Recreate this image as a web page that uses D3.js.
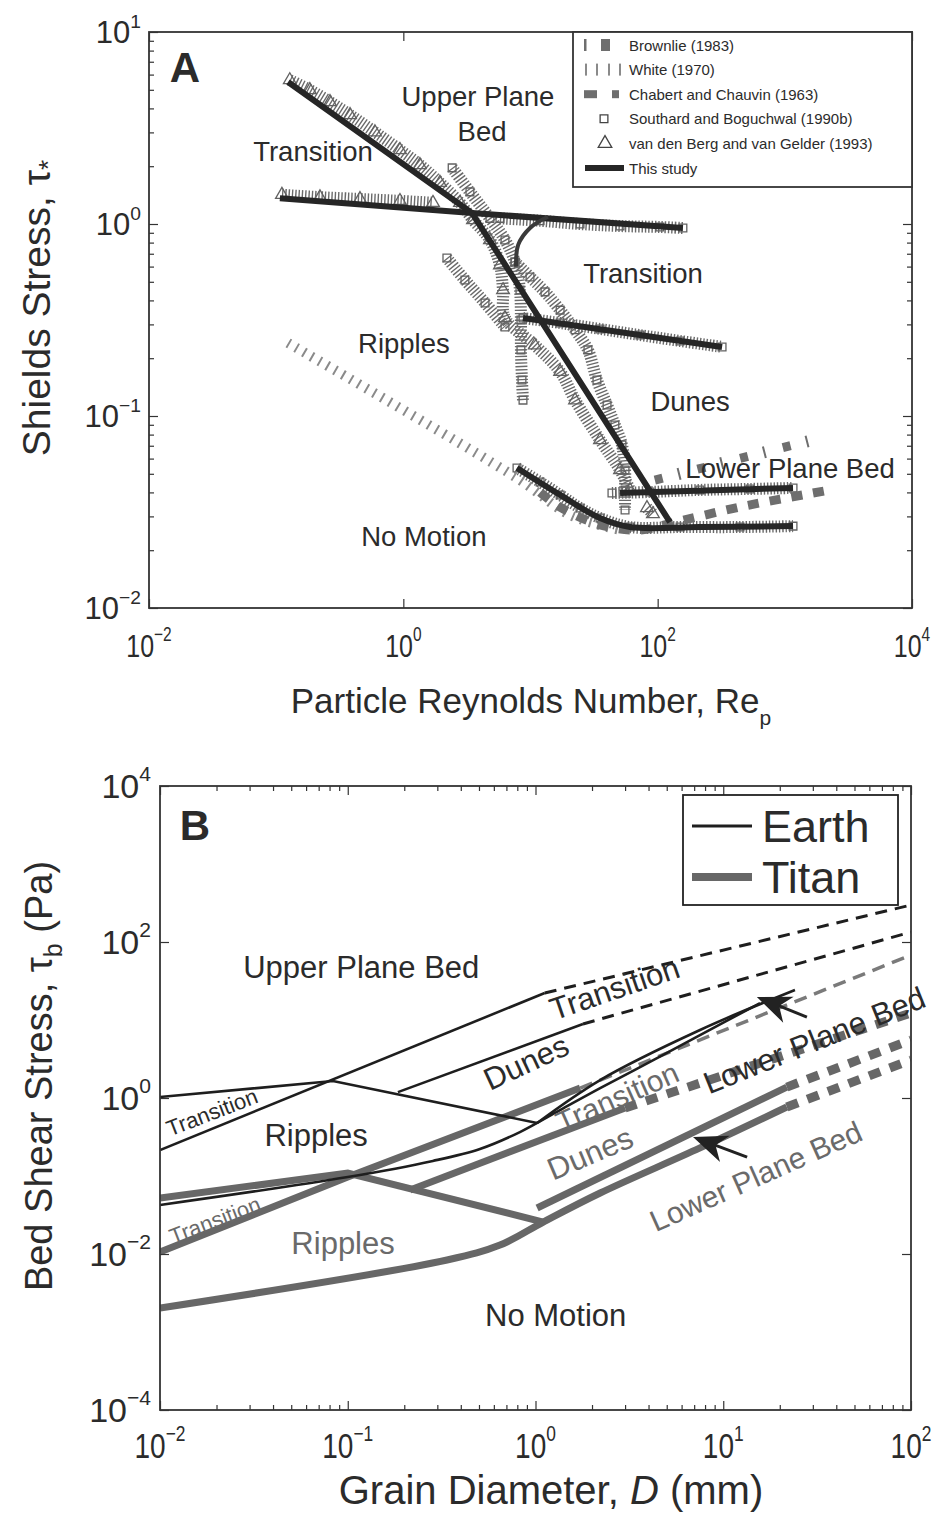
<!DOCTYPE html>
<html>
<head>
<meta charset="utf-8">
<script src="https://cdn.jsdelivr.net/npm/d3@7"></script>
<style>
  body { margin: 0; background: #fff; }
  text { font-family: "Liberation Sans", Arial, Helvetica, sans-serif; fill: #2b2b2b; }
</style>
</head>
<body>
<svg id="chart" width="937" height="1513"></svg>
<script>
// ---------- Panel A data (Re_p, Shields stress) ----------
const reTicks = [1e-2, 1e0, 1e2, 1e4];
const tauTicksA = [1e-2, 1e-1, 1e0, 1e1];

const studyUpper = [[0.107, 1.36], [3.47, 1.14], [158, 0.953]];
const studySteep = [[0.124, 5.49], [3.47, 1.14], [125, 0.028]];
const studyTransDunes = [[8.73, 0.324], [321, 0.229]];
const studyLowerPlane = [[50.6, 0.0397], [1160, 0.0422]];
const studyThreshold = [[7.83, 0.0536], [17.1, 0.0388], [35.2, 0.0294], [60.6, 0.0264], [215, 0.0264], [1160, 0.0267]];
const studyBranch = [[13.7, 1.09], [9.91, 0.953], [8.0, 0.778], [7.7, 0.60]];

const white1970 = [[0.124, 0.240], [7.83, 0.0475], [20.5, 0.0305], [50.6, 0.0255]];
const chabert1963 = [[11.9, 0.040], [17.1, 0.0335], [35.2, 0.0271], [72.6, 0.0255], [150, 0.0284], [444, 0.0336], [2270, 0.0412]];
const brownlie1983 = [[95, 0.0464], [2070, 0.0778]];

const triUpper = [[0.128, 5.62], [0.184, 4.99], [0.265, 4.32], [0.381, 3.70], [0.598, 3.01], [0.941, 2.43], [1.35, 2.03], [1.94, 1.64], [2.79, 1.29], [3.53, 1.05], [4.80, 0.826], [5.75, 0.611], [6.08, 0.453], [6.30, 0.324], [10.8, 0.234], [17.1, 0.170], [22.4, 0.121], [35.2, 0.075], [50.6, 0.0523], [60.6, 0.0412]];
const triFlat = [[0.111, 1.42], [0.221, 1.38], [0.456, 1.35], [0.941, 1.32], [1.71, 1.29]];
const triLow = [[82.4, 0.0332], [91.8, 0.0309]];

const sqUpper = [[2.42, 1.96], [3.34, 1.47], [4.80, 1.07], [6.30, 0.826], [7.55, 0.634], [8.26, 0.453], [8.41, 0.316], [8.41, 0.221], [8.57, 0.154], [8.73, 0.121]];
const sqRipples = [[2.20, 0.665], [3.05, 0.511], [4.39, 0.388], [6.30, 0.291]];
const sqDunes = [[7.55, 0.634], [9.91, 0.530], [13.0, 0.443], [17.1, 0.356], [22.4, 0.281], [28.3, 0.221], [33.3, 0.154], [40.0, 0.114], [46.1, 0.0898], [52.4, 0.0706], [55.4, 0.0523], [55.4, 0.0412], [55.4, 0.0324]];
const sqFlat = [[5.75, 1.07], [11.9, 1.04], [24.5, 1.0], [50.6, 0.976], [104, 0.965], [158, 0.953]];
const sqTransDunes = [[8.73, 0.324], [17.1, 0.305], [35.2, 0.284], [72.6, 0.264], [150, 0.246], [321, 0.229]];
const sqLowerPlane = [[43.7, 0.0397], [87.0, 0.0402], [215, 0.0412], [532, 0.0417], [1160, 0.0422]];
const sqThreshold = [[7.83, 0.0536], [11.9, 0.0453], [17.1, 0.0388], [24.5, 0.0332], [35.2, 0.0294], [60.6, 0.0264], [150, 0.0264], [444, 0.0264], [1160, 0.0267]];

const legendA = ["Brownlie (1983)", "White (1970)", "Chabert and Chauvin (1963)", "Southard and Boguchwal (1990b)", "van den Berg and van Gelder (1993)", "This study"];

const labelsA = [
  {t: "Upper Plane", p: [3.86, 4.64]}, {t: "Bed", p: [4.16, 3.05]},
  {t: "Transition", p: [0.195, 2.40]}, {t: "Transition", p: [76.7, 0.556]},
  {t: "Ripples", p: [1.01, 0.24]}, {t: "Dunes", p: [180, 0.120]},
  {t: "Lower Plane Bed", p: [1100, 0.0536]}, {t: "No Motion", p: [1.45, 0.0237]}
];

// ---------- Panel B data (D in mm, bed shear stress in Pa) ----------
const dTicks = [1e-2, 1e-1, 1e0, 1e1, 1e2];
const tauTicksB = [1e-4, 1e-2, 1e0, 1e2, 1e4];

const earthUpper = [[0.01, 0.215], [1.12, 22.2]];
const earthUpperExt = [[1.12, 22.2], [100, 298]];
const earthTransDunes = [[0.185, 1.19], [1.79, 8.9]];
const earthTransDunesExt = [[1.79, 8.9], [100, 134]];
const earthRipples = [[0.01, 1.03], [0.0834, 1.65], [1.02, 0.478]];
const earthThreshold = [[0.01, 0.0425], [0.1, 0.097], [0.284, 0.156], [0.506, 0.222], [0.826, 0.366], [1.35, 0.70], [2.21, 1.34], [4.07, 2.9], [7.52, 6.4], [15.7, 16.5]];
const earthLowerPlane = [[1.02, 0.478], [2.21, 1.70], [7.52, 7.45], [24.1, 24.3]];

const titanUpper = [[0.01, 0.0106], [0.1, 0.097], [1.73, 1.34]];
const titanUpperExt = [[1.73, 1.34], [100, 68]];
const titanTransDunes = [[0.215, 0.0663], [3.0, 0.745]];
const titanTransDunesExt = [[3.0, 0.745], [100, 12.3]];
const titanRipples = [[0.01, 0.052], [0.1, 0.109], [1.10, 0.0257]];
const titanThreshold = [[0.01, 0.00203], [0.338, 0.00838], [0.647, 0.013], [1.10, 0.0257], [2.21, 0.0605], [7.52, 0.229], [21.8, 0.767]];
const titanThresholdExt = [[21.8, 0.767], [100, 3.07]];
const titanLowerPlane = [[1.02, 0.0389], [21.8, 1.38]];
const titanLowerPlaneExt = [[21.8, 1.38], [100, 5.55]];

const arrowsB = [
  {head: [15.1, 19.7], tail: [27.9, 10.9]},
  {head: [6.9, 0.316], tail: [13.4, 0.175]}
];

const labelsB = [
  {t: "Upper Plane Bed", p: [0.118, 47.8], r: 0, c: "#2b2b2b", s: 31},
  {t: "Transition", p: [2.63, 25.7], r: -19, c: "#2b2b2b", s: 31},
  {t: "Dunes", p: [0.889, 2.9], r: -25, c: "#2b2b2b", s: 31},
  {t: "Transition", p: [0.0189, 0.662], r: -21, c: "#2b2b2b", s: 22},
  {t: "Ripples", p: [0.0678, 0.336], r: 0, c: "#2b2b2b", s: 31},
  {t: "Lower Plane Bed", p: [30.5, 5.55], r: -22, c: "#2b2b2b", s: 31},
  {t: "Transition", p: [2.72, 1.03], r: -24, c: "#6a6a6a", s: 30},
  {t: "Dunes", p: [1.95, 0.197], r: -23, c: "#6a6a6a", s: 31},
  {t: "Lower Plane Bed", p: [14.9, 0.1], r: -24, c: "#6a6a6a", s: 30},
  {t: "Transition", p: [0.0196, 0.0273], r: -21, c: "#6a6a6a", s: 22},
  {t: "Ripples", p: [0.0944, 0.0138], r: 0, c: "#6a6a6a", s: 31},
  {t: "No Motion", p: [1.28, 0.00165], r: 0, c: "#2b2b2b", s: 31}
];

// ---------- drawing ----------
const svg = d3.select("#chart");

const xA = d3.scaleLog().domain([1e-2, 1e4]).range([149, 912]);
const yA = d3.scaleLog().domain([1e-2, 1e1]).range([608, 32]);
const xB = d3.scaleLog().domain([1e-2, 1e2]).range([160, 911]);
const yB = d3.scaleLog().domain([1e-4, 1e4]).range([1410, 786]);

function minors(lo, hi) {
  const out = [];
  for (let e = lo; e < hi; e++) for (let k = 2; k < 10; k++) out.push(k * Math.pow(10, e));
  return out;
}

function powLabel(g, x, y, exp, size, anchor, sx) {
  const t = g.append("text").attr("transform", `translate(${x},${y}) scale(${sx},1)`)
    .attr("font-size", size).attr("text-anchor", anchor);
  t.append("tspan").text("10");
  t.append("tspan").attr("dy", -size * 0.5).attr("font-size", size * 0.62)
    .text(exp < 0 ? "\u2212" + (-exp) : String(exp));
}

function ticks(g, axis) {
  g.call(axis).call(s => s.select(".domain").remove())
    .call(s => s.selectAll("line").attr("stroke", "#333").attr("stroke-width", 1.2));
}

function frame(g, x, y, xMajor, xMinor, yMajor, yMinor) {
  const [x0, x1] = x.range(), [y0, y1] = y.range();
  ticks(g.append("g").attr("transform", `translate(0,${y0})`), d3.axisBottom(x).tickValues(xMajor).tickSize(-9).tickFormat(""));
  ticks(g.append("g").attr("transform", `translate(0,${y1})`), d3.axisTop(x).tickValues(xMajor).tickSize(-9).tickFormat(""));
  ticks(g.append("g").attr("transform", `translate(${x0},0)`), d3.axisLeft(y).tickValues(yMajor).tickSize(-9).tickFormat(""));
  ticks(g.append("g").attr("transform", `translate(${x1},0)`), d3.axisRight(y).tickValues(yMajor).tickSize(-9).tickFormat(""));
  if (xMinor.length) {
    ticks(g.append("g").attr("transform", `translate(0,${y0})`), d3.axisBottom(x).tickValues(xMinor).tickSize(-5).tickFormat(""));
    ticks(g.append("g").attr("transform", `translate(0,${y1})`), d3.axisTop(x).tickValues(xMinor).tickSize(-5).tickFormat(""));
  }
  if (yMinor.length) {
    ticks(g.append("g").attr("transform", `translate(${x0},0)`), d3.axisLeft(y).tickValues(yMinor).tickSize(-5).tickFormat(""));
    ticks(g.append("g").attr("transform", `translate(${x1},0)`), d3.axisRight(y).tickValues(yMinor).tickSize(-5).tickFormat(""));
  }
  g.append("rect").attr("x", x0).attr("y", y1).attr("width", x1 - x0).attr("height", y0 - y1)
    .attr("fill", "none").attr("stroke", "#333").attr("stroke-width", 1.8);
}

// ===== Panel A =====
const gA = svg.append("g");
const lineA = d3.line().x(d => xA(d[0])).y(d => yA(d[1]));
const curveA = d3.line().x(d => xA(d[0])).y(d => yA(d[1])).curve(d3.curveCatmullRom.alpha(0.5));

gA.append("clipPath").attr("id", "clipA").append("rect")
  .attr("x", 149).attr("y", 32).attr("width", 763).attr("height", 576);
const pA = gA.append("g").attr("clip-path", "url(#clipA)");

function markerBand(data, type) {
  pA.append("path").attr("d", curveA(data)).attr("fill", "none")
    .attr("stroke", "#6a6a6a").attr("stroke-width", 12).attr("stroke-dasharray", "1.4 1.9");
  pA.selectAll(null).data(data).enter().append("path")
    .attr("transform", d => `translate(${xA(d[0])},${yA(d[1])})`)
    .attr("d", d3.symbol().type(type).size(type === d3.symbolSquare ? 60 : 70))
    .attr("fill", "none").attr("stroke", "#626262").attr("stroke-width", 1.3);
}

[sqUpper, sqRipples, sqDunes, sqFlat, sqTransDunes, sqLowerPlane, sqThreshold].forEach(d => markerBand(d, d3.symbolSquare));
[triUpper, triFlat, triLow].forEach(d => markerBand(d, d3.symbolTriangle));

// literature curves
pA.append("path").attr("d", curveA(white1970)).attr("fill", "none")
  .attr("stroke", "#8a8a8a").attr("stroke-width", 10).attr("stroke-dasharray", "2 7");
pA.append("path").attr("d", curveA(chabert1963)).attr("fill", "none")
  .attr("stroke", "#6e6e6e").attr("stroke-width", 9).attr("stroke-dasharray", "11 11");
pA.append("path").attr("d", lineA(brownlie1983)).attr("fill", "none")
  .attr("stroke", "#6e6e6e").attr("stroke-width", 9).attr("stroke-dasharray", "8 36");
pA.append("path").attr("d", lineA(brownlie1983)).attr("fill", "none")
  .attr("stroke", "#6e6e6e").attr("stroke-width", 12).attr("stroke-dasharray", "2 42").attr("stroke-dashoffset", -24);

// this study
[studyUpper, studySteep, studyTransDunes, studyLowerPlane].forEach(d => {
  pA.append("path").attr("d", lineA(d)).attr("fill", "none")
    .attr("stroke", "#262626").attr("stroke-width", 6);
});
pA.append("path").attr("d", curveA(studyThreshold)).attr("fill", "none")
  .attr("stroke", "#262626").attr("stroke-width", 6);
pA.append("path").attr("d", curveA(studyBranch)).attr("fill", "none")
  .attr("stroke", "#3a3a3a").attr("stroke-width", 4);

labelsA.forEach(l => {
  gA.append("text").attr("x", xA(l.p[0])).attr("y", yA(l.p[1]) + 10)
    .attr("text-anchor", "middle").attr("font-size", 27.5).text(l.t);
});

frame(gA, xA, yA, reTicks, [], tauTicksA, minors(-2, 1));

reTicks.forEach(v => powLabel(gA, xA(v), 657, Math.round(Math.log10(v)), 32, "middle", 0.78));
tauTicksA.forEach(v => powLabel(gA, 141, yA(v) + 11, Math.round(Math.log10(v)), 31, "end", 1));

gA.append("text").attr("x", 185).attr("y", 82).attr("text-anchor", "middle")
  .attr("font-size", 42).attr("font-weight", "bold").attr("fill", "#111").text("A");

// legend A
const lgA = gA.append("g");
lgA.append("rect").attr("x", 573).attr("y", 32).attr("width", 339).attr("height", 155)
  .attr("fill", "#fff").attr("stroke", "#333").attr("stroke-width", 1.8);
const lgY = d3.scalePoint().domain(legendA).range([45, 168]);
legendA.forEach(t => {
  lgA.append("text").attr("x", 629).attr("y", lgY(t) + 5.5).attr("font-size", 15)
    .attr("fill", "#3a3a3a").text(t);
});
const ly = t => lgY(t);
lgA.append("rect").attr("x", 584).attr("y", ly(legendA[0]) - 6).attr("width", 2.5).attr("height", 12).attr("fill", "#6e6e6e");
lgA.append("rect").attr("x", 601).attr("y", ly(legendA[0]) - 6).attr("width", 9).attr("height", 12).attr("fill", "#6e6e6e");
[585, 596, 608, 619].forEach(x => lgA.append("rect").attr("x", x).attr("y", ly(legendA[1]) - 6)
  .attr("width", 2).attr("height", 12).attr("fill", "#8a8a8a"));
lgA.append("rect").attr("x", 584).attr("y", ly(legendA[2]) - 4).attr("width", 13).attr("height", 8).attr("fill", "#6e6e6e");
lgA.append("rect").attr("x", 612).attr("y", ly(legendA[2]) - 4).attr("width", 7).attr("height", 8).attr("fill", "#6e6e6e");
lgA.append("path").attr("transform", `translate(604,${ly(legendA[3])})`)
  .attr("d", d3.symbol().type(d3.symbolSquare).size(60)).attr("fill", "none").attr("stroke", "#444").attr("stroke-width", 1.3);
lgA.append("path").attr("transform", `translate(605,${ly(legendA[4])})`)
  .attr("d", d3.symbol().type(d3.symbolTriangle).size(80)).attr("fill", "none").attr("stroke", "#444").attr("stroke-width", 1.3);
lgA.append("line").attr("x1", 585).attr("x2", 624).attr("y1", ly(legendA[5])).attr("y2", ly(legendA[5]))
  .attr("stroke", "#262626").attr("stroke-width", 6);

// axis titles A
const yTitleA = gA.append("text").attr("transform", "translate(50,308) rotate(-90)")
  .attr("text-anchor", "middle").attr("font-size", 39);
yTitleA.append("tspan").text("Shields Stress, \u03c4");
yTitleA.append("tspan").attr("dy", 7).attr("font-size", 26).text("*");

const xTitleA = gA.append("text").attr("x", 531).attr("y", 713)
  .attr("text-anchor", "middle").attr("font-size", 35);
xTitleA.append("tspan").text("Particle Reynolds Number, Re");
xTitleA.append("tspan").attr("dy", 12).attr("font-size", 21).text("p");

// ===== Panel B =====
const gB = svg.append("g");
const lineB = d3.line().x(d => xB(d[0])).y(d => yB(d[1]));
const curveB = d3.line().x(d => xB(d[0])).y(d => yB(d[1])).curve(d3.curveCatmullRom.alpha(0.5));
gB.append("clipPath").attr("id", "clipB").append("rect")
  .attr("x", 160).attr("y", 786).attr("width", 751).attr("height", 624);
const pB = gB.append("g").attr("clip-path", "url(#clipB)");

function pathB(data, color, width, dash, smooth) {
  const p = pB.append("path").attr("d", (smooth ? curveB : lineB)(data)).attr("fill", "none")
    .attr("stroke", color).attr("stroke-width", width);
  if (dash) p.attr("stroke-dasharray", dash);
}

const titanGray = "#676767";
// Titan
pathB(titanUpper, titanGray, 7);
pathB(titanUpperExt, "#7a7a7a", 3.5, "13 8");
pathB(titanTransDunes, titanGray, 7);
pathB(titanTransDunesExt, titanGray, 9, "12 10");
pathB(titanRipples, titanGray, 7);
pathB(titanThreshold, titanGray, 7, null, true);
pathB(titanThresholdExt, titanGray, 9, "12 10");
pathB(titanLowerPlane, titanGray, 7);
pathB(titanLowerPlaneExt, titanGray, 9, "12 10");

// Earth
const earthCol = "#1e1e1e";
pathB(earthUpper, earthCol, 2.6);
pathB(earthUpperExt, earthCol, 3, "12 8");
pathB(earthTransDunes, earthCol, 2.6);
pathB(earthTransDunesExt, earthCol, 3, "12 8");
pathB(earthRipples, earthCol, 2.6);
pathB(earthThreshold, earthCol, 2.6, null, true);
pathB(earthLowerPlane, earthCol, 2.6, null, true);

// arrows
arrowsB.forEach(a => {
  const hx = xB(a.head[0]), hy = yB(a.head[1]), tx = xB(a.tail[0]), ty = yB(a.tail[1]);
  const ang = Math.atan2(ty - hy, tx - hx) * 180 / Math.PI;
  const g = pB.append("g").attr("transform", `translate(${hx},${hy}) rotate(${ang})`);
  const len = Math.hypot(tx - hx, ty - hy);
  g.append("line").attr("x1", 20).attr("x2", len).attr("stroke", "#222").attr("stroke-width", 3);
  g.append("path").attr("d", "M0,0 L34,-14 L24,0 L34,14 Z").attr("fill", "#222");
});

labelsB.forEach(l => {
  gB.append("text")
    .attr("transform", `translate(${xB(l.p[0])},${yB(l.p[1])}) rotate(${l.r})`)
    .attr("y", l.s * 0.36).attr("text-anchor", "middle")
    .attr("font-size", l.s).style("fill", l.c).text(l.t);
});

frame(gB, xB, yB, dTicks, minors(-2, 2), tauTicksB, []);

dTicks.forEach(v => powLabel(gB, xB(v), 1458, Math.round(Math.log10(v)), 35, "middle", 0.8));
tauTicksB.forEach(v => powLabel(gB, 151, yB(v) + 12, Math.round(Math.log10(v)), 34, "end", 1));

gB.append("text").attr("x", 195).attr("y", 840).attr("text-anchor", "middle")
  .attr("font-size", 42).attr("font-weight", "bold").attr("fill", "#111").text("B");

// legend B
const lgB = gB.append("g");
lgB.append("rect").attr("x", 683).attr("y", 795).attr("width", 215).attr("height", 110)
  .attr("fill", "#fff").attr("stroke", "#222").attr("stroke-width", 1.8);
lgB.append("line").attr("x1", 692).attr("x2", 752).attr("y1", 826).attr("y2", 826)
  .attr("stroke", earthCol).attr("stroke-width", 3);
lgB.append("line").attr("x1", 692).attr("x2", 752).attr("y1", 877).attr("y2", 877)
  .attr("stroke", titanGray).attr("stroke-width", 8);
lgB.append("text").attr("x", 762).attr("y", 842).attr("font-size", 45).text("Earth");
lgB.append("text").attr("x", 762).attr("y", 893).attr("font-size", 45).text("Titan");

// axis titles B
const yTitleB = gB.append("text").attr("transform", "translate(52,1076) rotate(-90)")
  .attr("text-anchor", "middle").attr("font-size", 38);
yTitleB.append("tspan").text("Bed Shear Stress, \u03c4");
yTitleB.append("tspan").attr("dy", 10).attr("font-size", 25).text("b");
yTitleB.append("tspan").attr("dy", -10).text(" (Pa)");

const xTitleB = gB.append("text").attr("x", 551).attr("y", 1504)
  .attr("text-anchor", "middle").attr("font-size", 40);
xTitleB.append("tspan").text("Grain Diameter, ");
xTitleB.append("tspan").attr("font-style", "italic").text("D");
xTitleB.append("tspan").text(" (mm)");
</script>
</body>
</html>
